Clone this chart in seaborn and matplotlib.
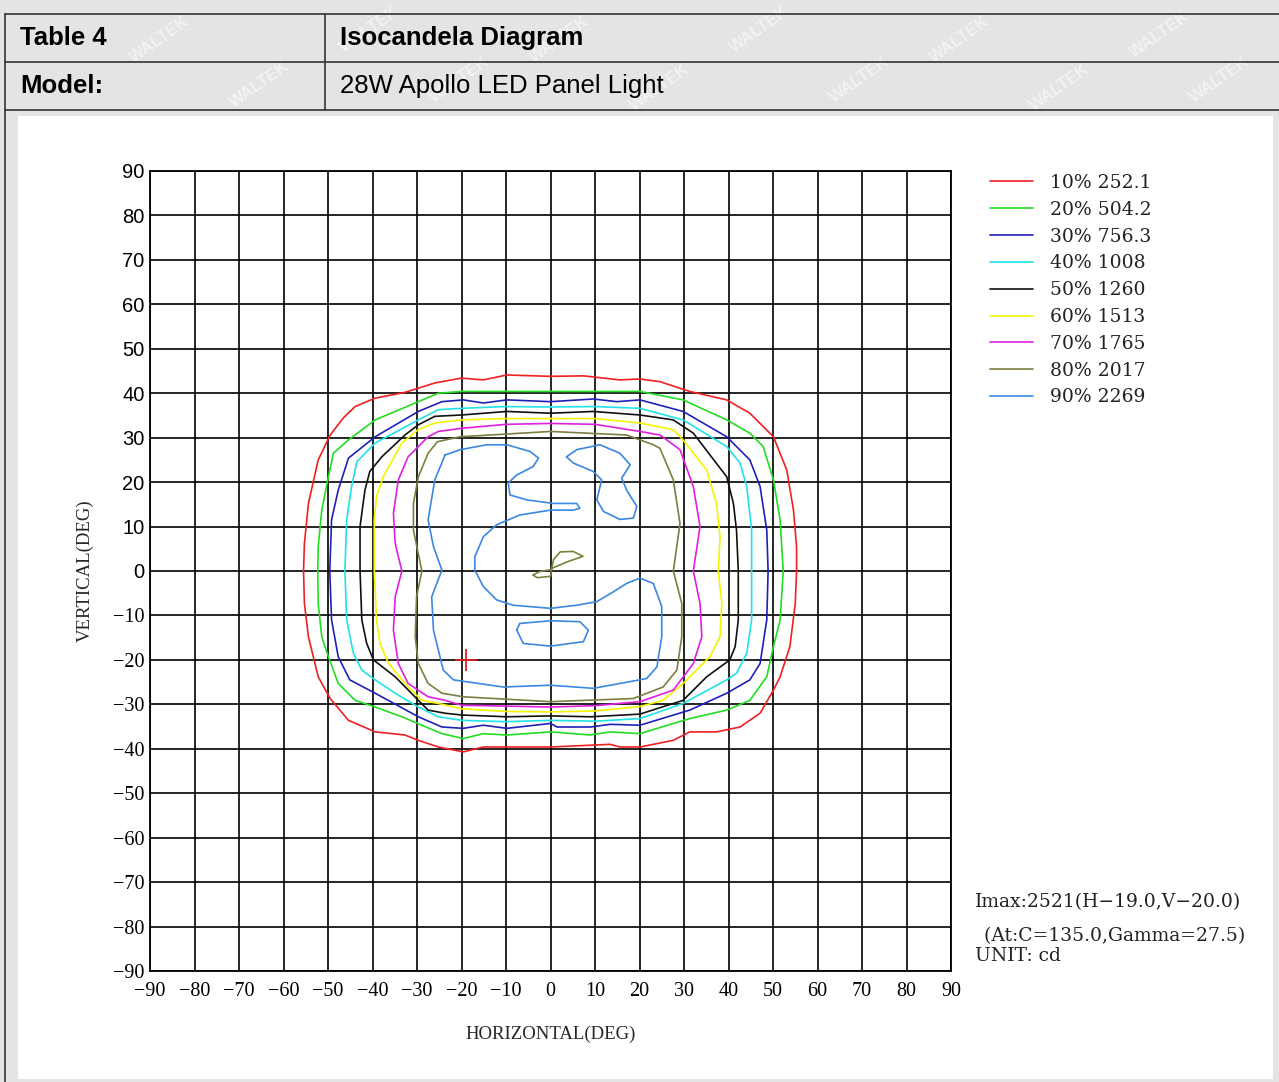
import matplotlib
matplotlib.use("Agg")
import matplotlib.pyplot as plt
from matplotlib.lines import Line2D
from matplotlib.patches import Rectangle
import seaborn as sns
import pandas as pd

# ---------------- data ----------------
levels = ["10% 252.1", "20% 504.2", "30% 756.3", "40% 1008", "50% 1260",
          "60% 1513", "70% 1765", "80% 2017", "90% 2269"]
level_colors = ["#f02020", "#22dd22", "#2020b8", "#22e2e8", "#111111",
                "#f4f400", "#e020e0", "#7e7e40", "#3a88e0"]

c10 = [(0,43.8),(7.5,43.9),(15.5,43.0),(20,43.2),(24.6,42.6),(31.3,40.4),(39.6,38.5),(44.8,35.5),
       (50.1,30.2),(53.1,22.7),(54.6,13.7),(55.3,5.5),(55.3,0),(55,-7.3),(53.8,-17),(51.6,-23.8),
       (50.1,-26.8),(47.1,-32),(42.6,-35.1),(37.3,-36.2),(31.3,-36.2),(27.6,-38.1),(20.1,-39.6),
       (15.6,-39.6),(13.4,-39.0),(0,-39.6),(-15.1,-39.6),(-19.6,-40.7),(-25.2,-39.6),(-29.7,-38.1),
       (-32.7,-36.9),(-39.4,-36.2),(-45.4,-33.6),(-49.5,-28.7),(-52.2,-23.8),(-54.4,-14.8),
       (-55.3,-7.3),(-55.5,0),(-55.3,6.2),(-54.4,15.2),(-52.2,25),(-49.5,30.6),(-46.5,34.5),
       (-43.9,37),(-39.4,38.9),(-32.7,40.2),(-26,42.3),(-20,43.4),(-15.1,43.0),(-9.8,44.1),(0,43.8)]
c20 = [(0,40.4),(10,40.4),(20.1,40.4),(29.8,38.5),(39.6,34),(44.8,31),(47.8,28),(50.1,20.5),
       (51.6,11.5),(52.3,0),(51.6,-11),(50.1,-17),(48.6,-23.8),(44.8,-29.1),(39.6,-31.3),
       (31.3,-33.2),(27.6,-34.3),(20.1,-36.6),(13.4,-36.2),(8.9,-36.9),(0,-36.2),(-9.8,-36.9),
       (-15.1,-36.6),(-19.6,-37.7),(-24.4,-36.6),(-28.9,-34.7),(-33.4,-32.8),(-39.4,-30.6),
       (-43.9,-29.1),(-47.7,-25.3),(-49.9,-19.3),(-51.4,-14.8),(-52.2,-7.3),(-52.3,0),(-52.2,5.5),
       (-51.4,13.7),(-49.9,21.2),(-48.8,26.5),(-45.4,29.5),(-39.4,34),(-29.7,38.1),(-25.2,40),
       (-20,40.4),(-10,40.4),(0,40.4)]
c30 = [(0,38.1),(9.6,38.7),(14.9,38.1),(20.1,38.5),(29.8,35.9),(39.6,30.2),(44.8,25),(47.1,19),
       (48.6,9.2),(48.9,0),(48.6,-11),(47.1,-20.8),(44.8,-24.5),(39.6,-27.5),(31.3,-31.3),
       (20.1,-34.7),(13.4,-34.5),(9,-35.1),(1.5,-35.1),(0,-34.3),(-9.8,-35.4),(-15.1,-34.7),
       (-19.6,-35.4),(-24.4,-35.1),(-29.7,-32.8),(-39.4,-27.5),(-45.1,-24.5),(-47.7,-19.3),
       (-49.2,-11),(-49.6,0),(-49.2,11.5),(-47.7,18.2),(-45.4,25.4),(-39.4,30.2),(-29.7,35.9),
       (-24.4,38.1),(-19.6,38.5),(-15.1,37.8),(-9.8,38.5),(0,38.1)]
c40 = [(0,36.9),(10,37),(20.1,36.6),(29.8,34),(39.6,28),(42.6,24.3),(44.1,19),(45.2,9.2),(45.2,0),
       (45.2,-11),(44.1,-18.5),(41.8,-23),(39.6,-24.5),(29.8,-29.8),(20.1,-33.2),(10,-33.8),
       (0,-33.6),(-10,-33.9),(-20,-33.6),(-25.2,-32.8),(-29.7,-30.6),(-34.9,-27.5),(-39.4,-24.5),
       (-42.4,-22.3),(-44.3,-18.5),(-45.8,-11),(-46.2,0),(-45.8,11.5),(-44.7,19),(-43.5,24.6),
       (-39.4,28.8),(-29.7,34),(-25.2,36.3),(-20,36.6),(-10,37),(0,36.9)]
c50 = [(0,35.5),(9.6,35.9),(20.1,35.1),(27.6,34),(32.1,31),(39.6,21.2),(41.1,15.2),(41.8,9.2),
       (42.2,0),(42.2,-11),(41.5,-17),(40.3,-20),(35.1,-23.8),(29.8,-29.1),(20.1,-32.2),(9,-32.8),
       (0,-32.6),(-9.8,-32.8),(-20,-32.4),(-23.7,-32),(-27.5,-31.3),(-29.7,-29.1),(-34.9,-23.8),
       (-39.8,-20),(-41.3,-16.3),(-42.4,-11),(-42.8,0),(-42.8,10),(-41.7,18.2),(-40.6,22.4),
       (-37.9,25.7),(-32.7,30.6),(-29.7,32.9),(-26,34.8),(-20,35.1),(-9.8,35.9),(0,35.5)]
c60 = [(0,34.3),(10,34.3),(20.1,33.3),(27.6,31.8),(29.8,29.5),(35.1,22.7),(37.3,15.2),(38.1,7.7),
       (37.7,0),(38.5,-7.3),(38.1,-14.8),(35.8,-19.3),(29.8,-25.3),(25.3,-29.1),(20.1,-30.5),
       (10,-31.5),(0,-31.7),(-10,-31.6),(-20,-31.0),(-25.2,-29.8),(-28.9,-29.1),(-32,-26.1),
       (-36.4,-20.8),(-38.3,-16.3),(-39.1,-11),(-39.6,0),(-39.6,11.5),(-39.1,16.7),(-37.6,21.2),
       (-33.4,28.8),(-29.7,31.8),(-26,33.3),(-20,34),(-10,34.3),(0,34.3)]
c70 = [(0,33.2),(10,33),(20.1,31.4),(24.6,30.6),(29.1,27.3),(32.1,19),(33.6,10),(32.1,0),
       (33.6,-7.3),(34,-14.8),(32.1,-20.8),(27.6,-26.8),(20.1,-29.4),(10,-30.3),(0,-30.6),
       (-10,-30.4),(-20,-30.2),(-23.7,-29.1),(-27.5,-28.3),(-32,-25.3),(-34.2,-20.8),(-35.3,-13.3),
       (-34.9,-5.8),(-33.4,0),(-34.9,6.2),(-35.3,13),(-34.2,20.5),(-32,25.7),(-27.5,30.2),
       (-25.2,31.4),(-20,32.1),(-10,33),(0,33.2)]
c80 = [(0,31.4),(17.1,30.6),(23.1,28.4),(24.6,27.6),(27.6,20.5),(29.1,10.7),(27.6,0),(29.5,-7.3),
       (29.5,-14.8),(28.4,-22.3),(25.3,-26.1),(18.6,-28.7),(0,-29.4),(-19.6,-28.3),(-24.4,-27.5),
       (-27.5,-25.3),(-29.7,-20.8),(-30.4,-14.8),(-30.1,-5.8),(-28.9,0),(-30.8,9.2),(-30.8,15.2),
       (-29.7,21.2),(-27.5,26.5),(-25.4,29.1),(-20.3,30.2),(0,31.4)]
c80_inner = [(-3.9,-0.9),(-2.4,-0.1),(0.2,0.3),(0.7,2.6),(2.2,4.3),(5.1,4.4),(7.3,3.3),(3.6,2.0),
             (0.3,0.6),(0,-1.2),(-3,-1.5),(-3.9,-0.9)]
c90_outer = [(-23.7,26.1),(-20.3,27.3),(-14.3,28.4),(-9.8,28.4),(-4.6,26.9),(-2.7,25.4),(-3.9,23.5),
             (-7.6,21.6),(-9.5,19.8),(-9.1,17.1),(-5.3,16),(0.6,15.2),(5.9,15.2),(6.6,14.1),
             (5.1,13.7),(0,13.7),(-6.9,12.6),(-12.1,10.4),(-15.1,7.7),(-17,3.2),(-17,0.2),
             (-15.1,-3.5),(-12.1,-6.5),(-8.4,-7.7),(0,-8.4),(5.9,-7.7),(10.4,-6.9),(14.1,-4.7),
             (17.1,-2.8),(20.1,-1.6),(23.1,-2.8),(25,-8),(25,-14.8),(23.9,-21.6),(21.6,-24.2),
             (9.6,-26.4),(0,-25.7),(-10.6,-26.1),(-21.8,-24.5),(-24.1,-22.3),(-26.3,-13.3),
             (-26.7,-5.8),(-24.4,0.2),(-26.3,5.5),(-27.5,11.5),(-26,20.5),(-23.7,26.1)]
c90_right = [(3.6,25.7),(5.9,27.3),(11.1,28.4),(15.6,26.5),(17.9,23.9),(16,20.9),(17.1,18.2),
             (19.4,14.5),(18.6,11.9),(15.6,11.6),(11.9,13.4),(10.4,16),(11.5,20.5),(9.6,22.4),
             (5.1,24.3),(3.6,25.7)]
c90_low = [(-7.6,-13.3),(-6.9,-11.8),(0,-11.2),(6.6,-11.4),(8.5,-13.3),(7.4,-15.9),(0,-16.9),
           (-6.1,-16.3),(-7.6,-13.3)]

contours = [[c10], [c20], [c30], [c40], [c50], [c60], [c70], [c80, c80_inner],
            [c90_outer, c90_right, c90_low]]

imax_h, imax_v = [-19.0], [-20.0]
ticks = list(range(-90, 91, 10))

# ---------------- figure ----------------
sns.set_theme(style="white")
W, H = 1279, 1082
fig = plt.figure(figsize=(W / 100, H / 100), dpi=100)
fig.patch.set_facecolor("#e4e4e4")

def fx(px):
    return px / W

def fy(py):
    return 1 - py / H

# faint watermark in the grey header cells only (kept fully inside the picture)
wm_pos = [(160, 40), (370, 30), (560, 40), (760, 30), (960, 40), (1160, 35),
          (260, 85), (460, 80), (660, 88), (860, 80), (1060, 88), (1220, 80)]
for xx, yy in wm_pos:
    fig.text(fx(xx), fy(yy), "WALTEK", color="white", alpha=0.55, fontsize=12,
             fontweight="bold", rotation=35, ha="center", va="center",
             family="Liberation Sans", zorder=0.2)

# white panel
fig.add_artist(Rectangle((fx(18), fy(1079)), (1273 - 18) / W, (1079 - 116) / H,
                         transform=fig.transFigure, facecolor="white", edgecolor="none",
                         zorder=1))
# table lines
lc = "#333333"
for (x0, y0, x1, y1) in [(5, 14, 1279, 14), (5, 62, 1279, 62), (5, 110, 1279, 110),
                         (5, 14, 5, 1082), (325, 14, 325, 110)]:
    fig.add_artist(Line2D([fx(x0), fx(x1)], [fy(y0), fy(y1)], transform=fig.transFigure,
                          color=lc, lw=1.2, zorder=2))

hfont = dict(family="Liberation Sans", fontsize=18.5, va="center", ha="left", color="black",
             zorder=2)
fig.text(fx(20), fy(38), "Table 4", fontweight="bold", **hfont)
fig.text(fx(340), fy(38), "Isocandela Diagram", fontweight="bold", **hfont)
fig.text(fx(20), fy(86), "Model:", fontweight="bold", **hfont)
fig.text(fx(340), fy(86), "28W Apollo LED Panel Light", **hfont)

# main axes
ax = fig.add_axes([fx(150), fy(971), 801 / W, 800 / H])
ax.set_zorder(3)
ax.set_facecolor("white")

for lab, col, segs in zip(levels, level_colors, contours):
    for i, seg in enumerate(segs):
        df = pd.DataFrame(seg, columns=["H", "V"])
        sns.lineplot(data=df, x="H", y="V", sort=False, estimator=None, color=col,
                     lw=1.2, ax=ax, label=lab if i == 0 else None, legend=False)

sns.scatterplot(x=imax_h, y=imax_v, marker="+", s=260, color="#e02020", linewidth=1.3,
                ax=ax, legend=False)

ax.set_xlim(-90, 90)
ax.set_ylim(-90, 90)
ax.set_xticks(ticks)
ax.set_yticks(ticks)
ax.grid(True, color="black", lw=1.2)
ax.set_axisbelow(True)
for s in ax.spines.values():
    s.set_color("black")
    s.set_linewidth(1.3)
ax.tick_params(axis="both", length=0, colors="black")
ax.tick_params(axis="x", pad=8)
ax.tick_params(axis="y", pad=4)
ax.set_xticklabels([str(t).replace("-", "\u2212") for t in ticks],
                   family="Liberation Serif", fontsize=14.5)
ax.set_yticklabels([str(t).replace("-", "\u2212") for t in ticks], fontsize=14.5)
for t, lbl in zip(ticks, ax.get_yticklabels()):
    lbl.set_family("Liberation Serif" if t < 0 else "Liberation Sans")
ax.set_xlabel("HORIZONTAL(DEG)", family="Liberation Serif", fontsize=13.5, labelpad=18)
ax.set_ylabel("VERTICAL(DEG)", family="Liberation Serif", fontsize=13.5, labelpad=14)
if ax.get_legend() is not None:
    ax.get_legend().remove()

handles, labels = ax.get_legend_handles_labels()
leg = fig.legend(handles, labels, loc="upper left", bbox_to_anchor=(fx(990), fy(174)),
                 bbox_transform=fig.transFigure, frameon=False, borderpad=0,
                 borderaxespad=0, handlelength=2.3, handletextpad=0.9, labelspacing=0.47,
                 prop={"family": "DejaVu Serif", "size": 13.5})
leg.set_zorder(4)
for t in leg.get_texts():
    t.set_color("#222222")

tfont = dict(family="DejaVu Serif", fontsize=13.5, color="#222222", ha="left",
             va="center", zorder=4)
fig.text(fx(975), fy(902), "Imax:2521(H\u221219.0,V\u221220.0)", **tfont)
fig.text(fx(978), fy(936), " (At:C=135.0,Gamma=27.5)", **tfont)
fig.text(fx(975), fy(956), "UNIT: cd", **tfont)

fig.savefig("out.png", dpi=100, facecolor=fig.get_facecolor())
